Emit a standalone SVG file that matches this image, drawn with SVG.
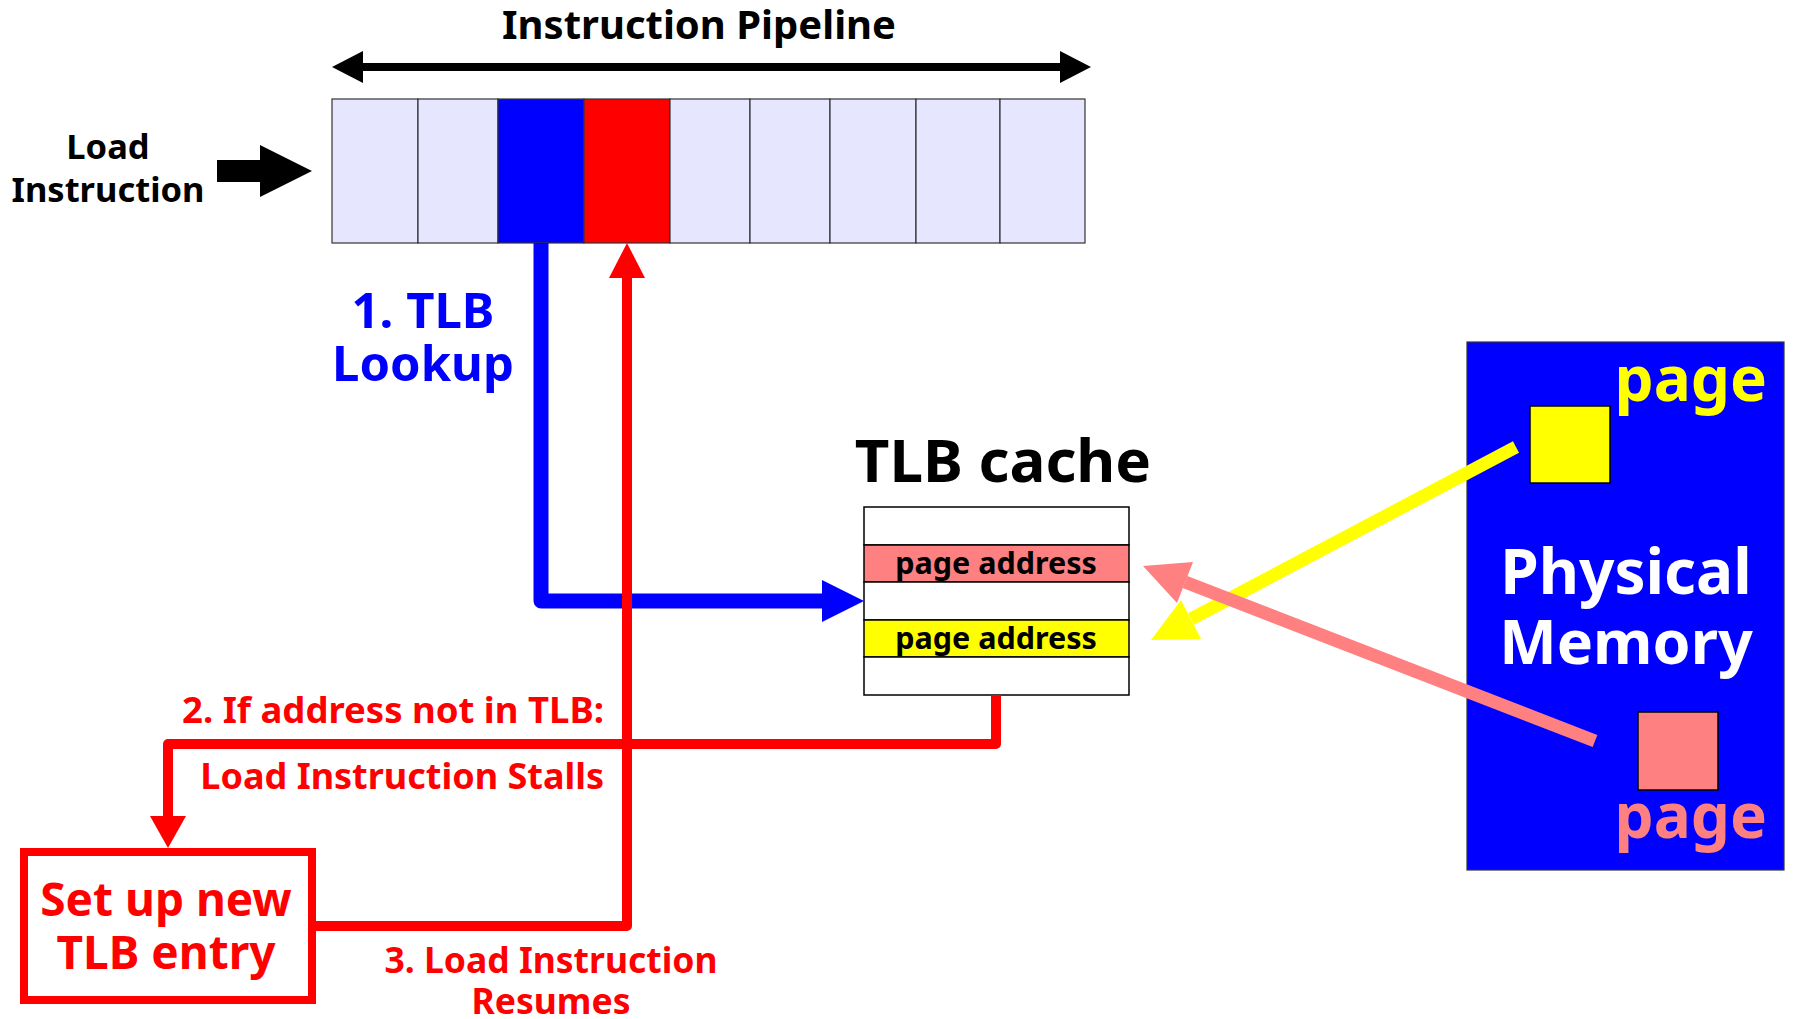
<svg xmlns="http://www.w3.org/2000/svg" width="1796" height="1019" viewBox="0 0 1796 1019">
<style>
text{font-family:"Noto Sans","Open Sans","DejaVu Sans",sans-serif;font-weight:bold}
.cell{fill:#e6e6ff;stroke:#333;stroke-width:1.2}
.row{stroke:#000;stroke-width:1.5}
.blk{fill:#000}
.red{fill:none;stroke:#ff0000;stroke-width:10;stroke-linejoin:round}
.blue{fill:none;stroke:#0000ff;stroke-width:15;stroke-linejoin:round}
</style>
<rect width="1796" height="1019" fill="#fff"/>
<g id="title">
<text x="699" y="39" font-size="40" text-anchor="middle" fill="#000">Instruction Pipeline</text>
<line x1="358" y1="67" x2="1065" y2="67" stroke="#000" stroke-width="8"/>
<polygon class="blk" points="332,67 363,51 363,83"/>
<polygon class="blk" points="1091,67 1060,51 1060,83"/>
</g>
<g id="load-instruction">
<text x="108" y="159" font-size="34.5" text-anchor="middle" fill="#000">Load</text>
<text x="108" y="202" font-size="34.5" text-anchor="middle" fill="#000">Instruction</text>
<polygon class="blk" points="217,160 260,160 260,145 312,171 260,197 260,182 217,182"/>
</g>
<g id="pipeline">
<rect class="cell" x="332" y="99" width="86" height="144"/>
<rect class="cell" x="418" y="99" width="80" height="144"/>
<rect x="498" y="99" width="86" height="144" fill="#0000ff" stroke="#333" stroke-width="1.2"/>
<rect x="584" y="99" width="86" height="144" fill="#ff0000" stroke="#333" stroke-width="1.2"/>
<rect class="cell" x="670" y="99" width="80" height="144"/>
<rect class="cell" x="750" y="99" width="80" height="144"/>
<rect class="cell" x="830" y="99" width="86" height="144"/>
<rect class="cell" x="916" y="99" width="84" height="144"/>
<rect class="cell" x="1000" y="99" width="85" height="144"/>
</g>
<g id="tlb-lookup-label">
<text x="423" y="328" font-size="49" text-anchor="middle" fill="#0000ff">1. TLB</text>
<text x="423" y="381" font-size="49" text-anchor="middle" fill="#0000ff">Lookup</text>
</g>
<g id="tlb-cache">
<text x="1003" y="482" font-size="60" text-anchor="middle" fill="#000">TLB cache</text>
<rect class="row" x="864" y="507" width="265" height="38" fill="#fff"/>
<rect class="row" x="864" y="545" width="265" height="37" fill="#ff8080"/>
<rect class="row" x="864" y="582" width="265" height="38" fill="#fff"/>
<rect class="row" x="864" y="620" width="265" height="37" fill="#ffff00"/>
<rect class="row" x="864" y="657" width="265" height="38" fill="#fff"/>
<text x="996" y="574" font-size="30.5" text-anchor="middle" fill="#000">page address</text>
<text x="996" y="649" font-size="30.5" text-anchor="middle" fill="#000">page address</text>
</g>
<g id="physical-memory">
<rect x="1467" y="342" width="317" height="528" fill="#0000ff" stroke="#333" stroke-width="1.2"/>
<rect x="1530" y="406" width="80" height="77" fill="#ffff00" stroke="#000" stroke-width="1.5"/>
<rect x="1638" y="712" width="80" height="78" fill="#ff8080" stroke="#000" stroke-width="1.5"/>
<text x="1767" y="401" font-size="62" text-anchor="end" fill="#ffff00">page</text>
<text x="1767" y="838" font-size="62" text-anchor="end" fill="#ff8080">page</text>
<text x="1626" y="594" font-size="62" text-anchor="middle" fill="#fff">Physical</text>
<text x="1626" y="664" font-size="61" text-anchor="middle" fill="#fff">Memory</text>
</g>
<g id="setup-tlb-entry">
<rect x="24" y="852" width="288" height="148" fill="#fff" stroke="#ff0000" stroke-width="8"/>
<text x="166" y="916" font-size="46" text-anchor="middle" fill="#ff0000">Set up new</text>
<text x="166" y="969" font-size="46" text-anchor="middle" fill="#ff0000">TLB entry</text>
</g>
<g id="connectors">
<polyline class="blue" points="541,243 541,601 824,601"/>
<polygon fill="#0000ff" points="822,580 864,601 822,622"/>
<polyline class="red" points="996,695 996,744 168,744 168,818"/>
<polygon fill="#ff0000" points="150,816 186,816 168,848"/>
<polyline class="red" points="316,926 627,926 627,276"/>
<polygon fill="#ff0000" points="609,278 645,278 627,243"/>
<line x1="1516" y1="447" x2="1191" y2="619" stroke="#ffff00" stroke-width="13"/>
<polygon fill="#ffff00" points="1151,640 1201,639 1181,600"/>
<line x1="1595" y1="741" x2="1185" y2="582" stroke="#ff8080" stroke-width="13"/>
<polygon fill="#ff8080" points="1143,566 1193,562 1177,603"/>
</g>
<g id="labels">
<text x="604" y="723" font-size="36.5" text-anchor="end" fill="#ff0000">2. If address not in TLB:</text>
<text x="604" y="789" font-size="36" text-anchor="end" fill="#ff0000">Load Instruction Stalls</text>
<text x="551" y="973" font-size="35.5" text-anchor="middle" fill="#ff0000">3. Load Instruction</text>
<text x="551" y="1014" font-size="35.5" text-anchor="middle" fill="#ff0000">Resumes</text>
</g>
</svg>
